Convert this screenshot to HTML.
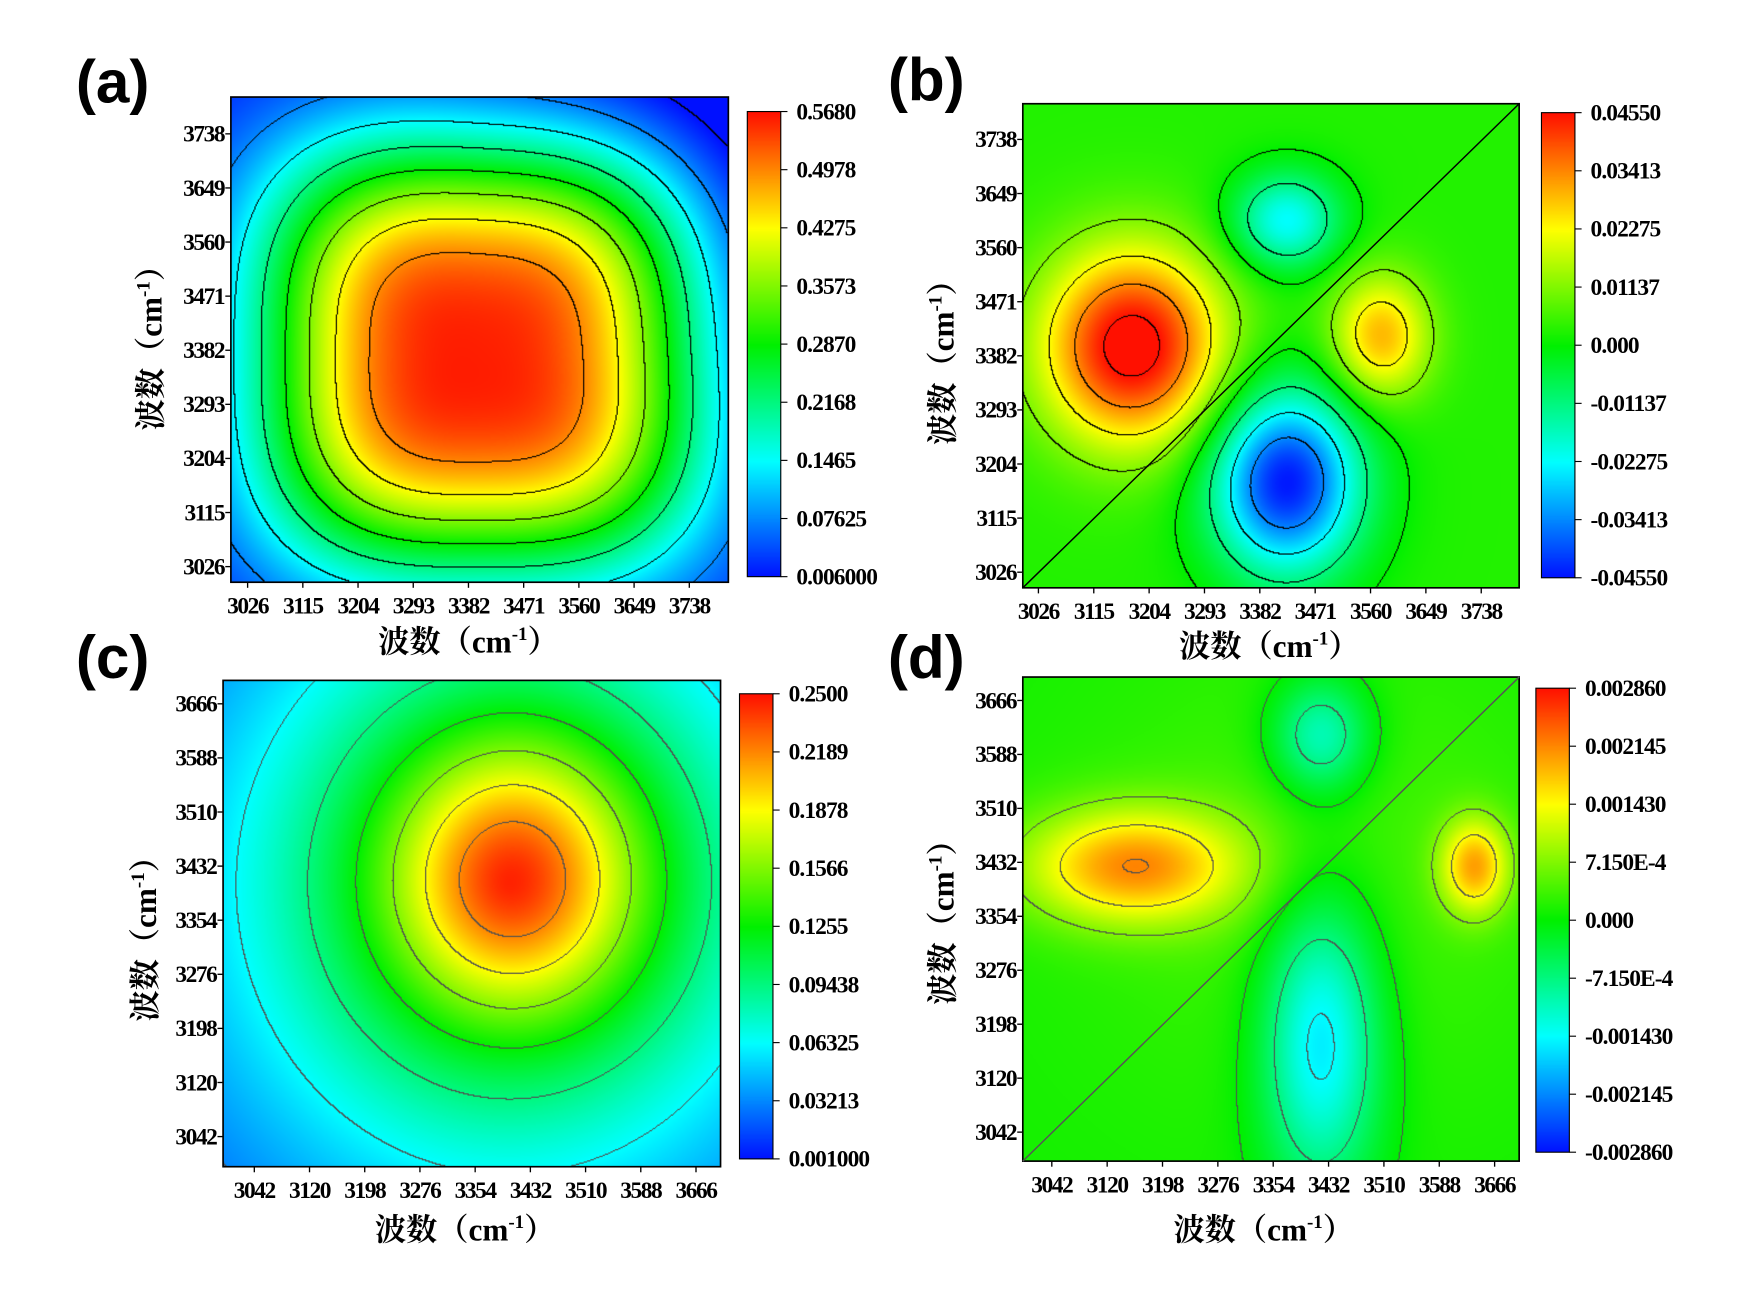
<!DOCTYPE html>
<html><head><meta charset="utf-8">
<style>
html,body{margin:0;padding:0;background:#fff;}
#wrap{position:relative;width:1740px;height:1302px;overflow:hidden;background:#fff;}
canvas{position:absolute;image-rendering:auto;}
svg{position:absolute;left:0;top:0;}
text{font-family:"Liberation Serif","Noto Serif CJK SC",serif;font-weight:bold;fill:#000;}
.pl{font-family:"Liberation Sans",sans-serif;font-weight:bold;font-size:54px;}
.tk{font-size:21px;letter-spacing:-1.3px;}
.cl{font-size:21px;letter-spacing:-0.8px;}
.ti{font-size:28px;}
</style></head>
<body>
<div id="wrap">
<svg id="svg" width="1740" height="1302" viewBox="0 0 1560 1167.3" preserveAspectRatio="none"></svg>
</div>
<script>
// ---- data ----
const ticksA = ['3026','3115','3204','3293','3382','3471','3560','3649','3738'];
const ticksC = ['3042','3120','3198','3276','3354','3432','3510','3588','3666'];
const cbA = ['0.5680','0.4978','0.4275','0.3573','0.2870','0.2168','0.1465','0.07625','0.006000'];
const cbB = ['0.04550','0.03413','0.02275','0.01137','0.000','-0.01137','-0.02275','-0.03413','-0.04550'];
const cbC = ['0.2500','0.2189','0.1878','0.1566','0.1255','0.09438','0.06325','0.03213','0.001000'];
const cbD = ['0.002860','0.002145','0.001430','7.150E-4','0.000','-7.150E-4','-0.001430','-0.002145','-0.002860'];
const rangeA = [0.006, 0.568], rangeB = [-0.0455, 0.0455], rangeC = [0.001, 0.25], rangeD = [-0.00286, 0.00286];
// peaks: u,v (0..1, v up), amplitude, sx, sy, shape power p, radial exponent q
const peaksA_u=[0.5,1.0], peaksA_v=[0.47,1.0], peaksA_amp=[0.555,-0.06], peaksA_sx=[0.44,0.5], peaksA_sy=[0.44,0.5], peaksA_p=[3,2], peaksA_q=[3,2];
const peaksB_u=[0.22,0.72,0.53,0.53], peaksB_v=[0.5,0.52,0.22,0.76], peaksB_amp=[0.047,0.027,-0.048,-0.026], peaksB_sx=[0.18,0.1,0.15,0.11], peaksB_sy=[0.2,0.13,0.19,0.1], peaksB_p=[2,2,2,2], peaksB_q=[2,2,2,2];
const peaksC_u=[0.59,0.57], peaksC_v=[0.6,0.58], peaksC_amp=[0.08,0.165], peaksC_sx=[0.25,0.55], peaksC_sy=[0.28,0.6], peaksC_p=[2,2], peaksC_q=[2,1.5];
const peaksD_u=[0.22,0.91,0.6,0.6,0.6], peaksD_v=[0.61,0.61,0.25,0.88,0.6], peaksD_amp=[0.0019,0.0017,-0.0018,-0.0013,0.0003], peaksD_sx=[0.22,0.07,0.12,0.1,0.5], peaksD_sy=[0.12,0.1,0.3,0.12,0.5], peaksD_p=[2,2,2,2,2], peaksD_q=[2,2,2,2,2];

const S = 1740/1560;
const NS='http://www.w3.org/2000/svg';
const svg=document.getElementById('svg');
const wrap=document.getElementById('wrap');

function jet(t){
  t=Math.max(0,Math.min(1,t));
  const st=[[0,0,16,255],[0.25,0,255,255],[0.5,0,240,0],[0.75,255,255,0],[1,255,16,0]];
  for(let i=1;i<st.length;i++){ if(t<=st[i][0]){const a=st[i-1],b=st[i];const f=(t-a[0])/(b[0]-a[0]);
    return [a[1]+(b[1]-a[1])*f,a[2]+(b[2]-a[2])*f,a[3]+(b[3]-a[3])*f];}}
  return [255,16,0];
}
function el(tag,attrs,txt){const e=document.createElementNS(NS,tag);for(const k in attrs)e.setAttribute(k,attrs[k]);if(txt!==undefined)e.textContent=txt;svg.appendChild(e);return e;}

const panels=[
 {id:'a',x:207,y:87,w:446,h:435,cb:[670,100,30,417],xt:[222,618],yt:[508,120],ticks:ticksA,cbl:cbA,range:rangeA,
  pu:peaksA_u,pv:peaksA_v,pa:peaksA_amp,psx:peaksA_sx,psy:peaksA_sy,pp:peaksA_p,pq:peaksA_q,base:0.012,nlev:8,lc:[0,0,0],lab:[68,92],xtt:[420,585],ytt:[145,305]},
 {id:'b',x:917,y:93,w:445,h:434,cb:[1382,101,30,417],xt:[931,1328],yt:[513,125],ticks:ticksA,cbl:cbB,range:rangeB,
  pu:peaksB_u,pv:peaksB_v,pa:peaksB_amp,psx:peaksB_sx,psy:peaksB_sy,pp:peaksB_p,pq:peaksB_q,base:0.003,nlev:8,lc:[0,0,0],lab:[796,90],xtt:[1138,589],ytt:[855,318],diag:'#000'},
 {id:'c',x:200,y:610,w:446,h:436,cb:[663,622,30,417],xt:[228,624],yt:[1019,631],ticks:ticksC,cbl:cbC,range:rangeC,
  pu:peaksC_u,pv:peaksC_v,pa:peaksC_amp,psx:peaksC_sx,psy:peaksC_sy,pp:peaksC_p,pq:peaksC_q,base:0.001,nlev:8,lc:[80,80,80],lab:[68,608],xtt:[417,1112],ytt:[140,835]},
 {id:'d',x:917,y:607,w:445,h:434,cb:[1377,617,30,416],xt:[943,1340],yt:[1015,628],ticks:ticksC,cbl:cbD,range:rangeD,
  pu:peaksD_u,pv:peaksD_v,pa:peaksD_amp,psx:peaksD_sx,psy:peaksD_sy,pp:peaksD_p,pq:peaksD_q,base:0.0001,nlev:8,lc:[80,80,80],lab:[796,608],xtt:[1133,1112],ytt:[855,820],diag:'#555'}
];

panels.forEach(P=>{
  const W=Math.round(P.w), H=Math.round(P.h);
  const cv=document.createElement('canvas');
  
  
  cv.width=W; cv.height=H;
  cv.style.left=(P.x*S)+'px'; cv.style.top=(P.y*S)+'px';
  cv.style.width=(P.w*S)+'px'; cv.style.height=(P.h*S)+'px';
  wrap.insertBefore(cv,svg);
  const ctx=cv.getContext('2d');
  const img=ctx.createImageData(W,H);
  const [lo,hi]=P.range, step=(hi-lo)/P.nlev;
  const val=new Float32Array(W*H), lev=new Int32Array(W*H);
  for(let j=0;j<H;j++)for(let i=0;i<W;i++){
    const u=i/W, v=1-j/H; let f=P.base;
    for(let k=0;k<P.pu.length;k++){
      const dx=Math.abs(u-P.pu[k])/P.psx[k], dy=Math.abs(v-P.pv[k])/P.psy[k];
      const r=Math.pow(Math.pow(dx,P.pp[k])+Math.pow(dy,P.pp[k]),1/P.pp[k]);
      f+=P.pa[k]*Math.exp(-Math.pow(r,P.pq[k]));
    }
    val[j*W+i]=f; lev[j*W+i]=Math.floor((f-lo)/step);
  }
  for(let j=0;j<H;j++)for(let i=0;i<W;i++){
    const idx=j*W+i; let c=jet((val[idx]-lo)/(hi-lo));
    const L=lev[idx];
    if((i+1<W&&lev[idx+1]!==L)||(j+1<H&&lev[idx+W]!==L)) c=P.lc;
    img.data[idx*4]=c[0];img.data[idx*4+1]=c[1];img.data[idx*4+2]=c[2];img.data[idx*4+3]=255;
  }
  ctx.putImageData(img,0,0);

  const [cx,cy,cw,ch]=P.cb;
  const cb=document.createElement('canvas');
  
  
  cb.width=10; cb.height=Math.round(ch);
  cb.style.left=(cx*S)+'px'; cb.style.top=(cy*S)+'px';
  cb.style.width=(cw*S)+'px'; cb.style.height=(ch*S)+'px';
  wrap.insertBefore(cb,svg);
  const c2=cb.getContext('2d');
  for(let j=0;j<cb.height;j++){const c=jet(1-j/cb.height);c2.fillStyle='rgb('+c.map(Math.round).join(',')+')';c2.fillRect(0,j,10,1);}

  const fr=el('rect',{x:P.x,y:P.y,width:P.w,height:P.h,fill:'none',stroke:'#000','stroke-width':1.5});
   
  const cf=el('rect',{x:cx,y:cy,width:cw,height:ch,fill:'none',stroke:'#000','stroke-width':1});
   
  if(P.diag){const d=el('line',{x1:P.x,y1:P.y+P.h,x2:P.x+P.w,y2:P.y,stroke:P.diag,'stroke-width':1.3});
     }

  const n=P.ticks.length;
  P.ticks.forEach((t,k)=>{
    const xx=P.xt[0]+(P.xt[1]-P.xt[0])*k/(n-1);
    el('line',{x1:xx,y1:P.y+P.h,x2:xx,y2:P.y+P.h+5,stroke:'#000','stroke-width':1.2});
    const tx=el('text',{x:xx,y:P.y+P.h+28,'text-anchor':'middle',class:'tk'},t);
     
    const yy=P.yt[0]+(P.yt[1]-P.yt[0])*k/(n-1);
    el('line',{x1:P.x-5,y1:yy,x2:P.x,y2:yy,stroke:'#000','stroke-width':1.2});
    const ty=el('text',{x:P.x-6,y:yy+7,'text-anchor':'end',class:'tk'},t);
     
  });
  const m=P.cbl.length;
  P.cbl.forEach((t,k)=>{
    const yy=cy+ch*k/(m-1);
    el('line',{x1:cx+cw,y1:yy,x2:cx+cw+6,y2:yy,stroke:'#000','stroke-width':1});
    const tl=el('text',{x:cx+cw+14,y:yy+7,class:'cl'},t);
     
  });

  const pl=el('text',{x:P.lab[0],y:P.lab[1],class:'pl'},'('+P.id+')');
   
  const xt=el('text',{x:P.xtt[0],y:P.xtt[1],'text-anchor':'middle',class:'ti'});
   
  xt.innerHTML='波数（cm<tspan dy="-11" font-size="17">-1</tspan><tspan dy="11">）</tspan>';
  const yt=el('text',{x:0,y:0,'text-anchor':'middle',class:'ti',transform:'translate('+P.ytt[0]+','+P.ytt[1]+') rotate(-90)'});
   
  yt.innerHTML='波数（cm<tspan dy="-11" font-size="17">-1</tspan><tspan dy="11">）</tspan>';
});
</script>
</body></html>
